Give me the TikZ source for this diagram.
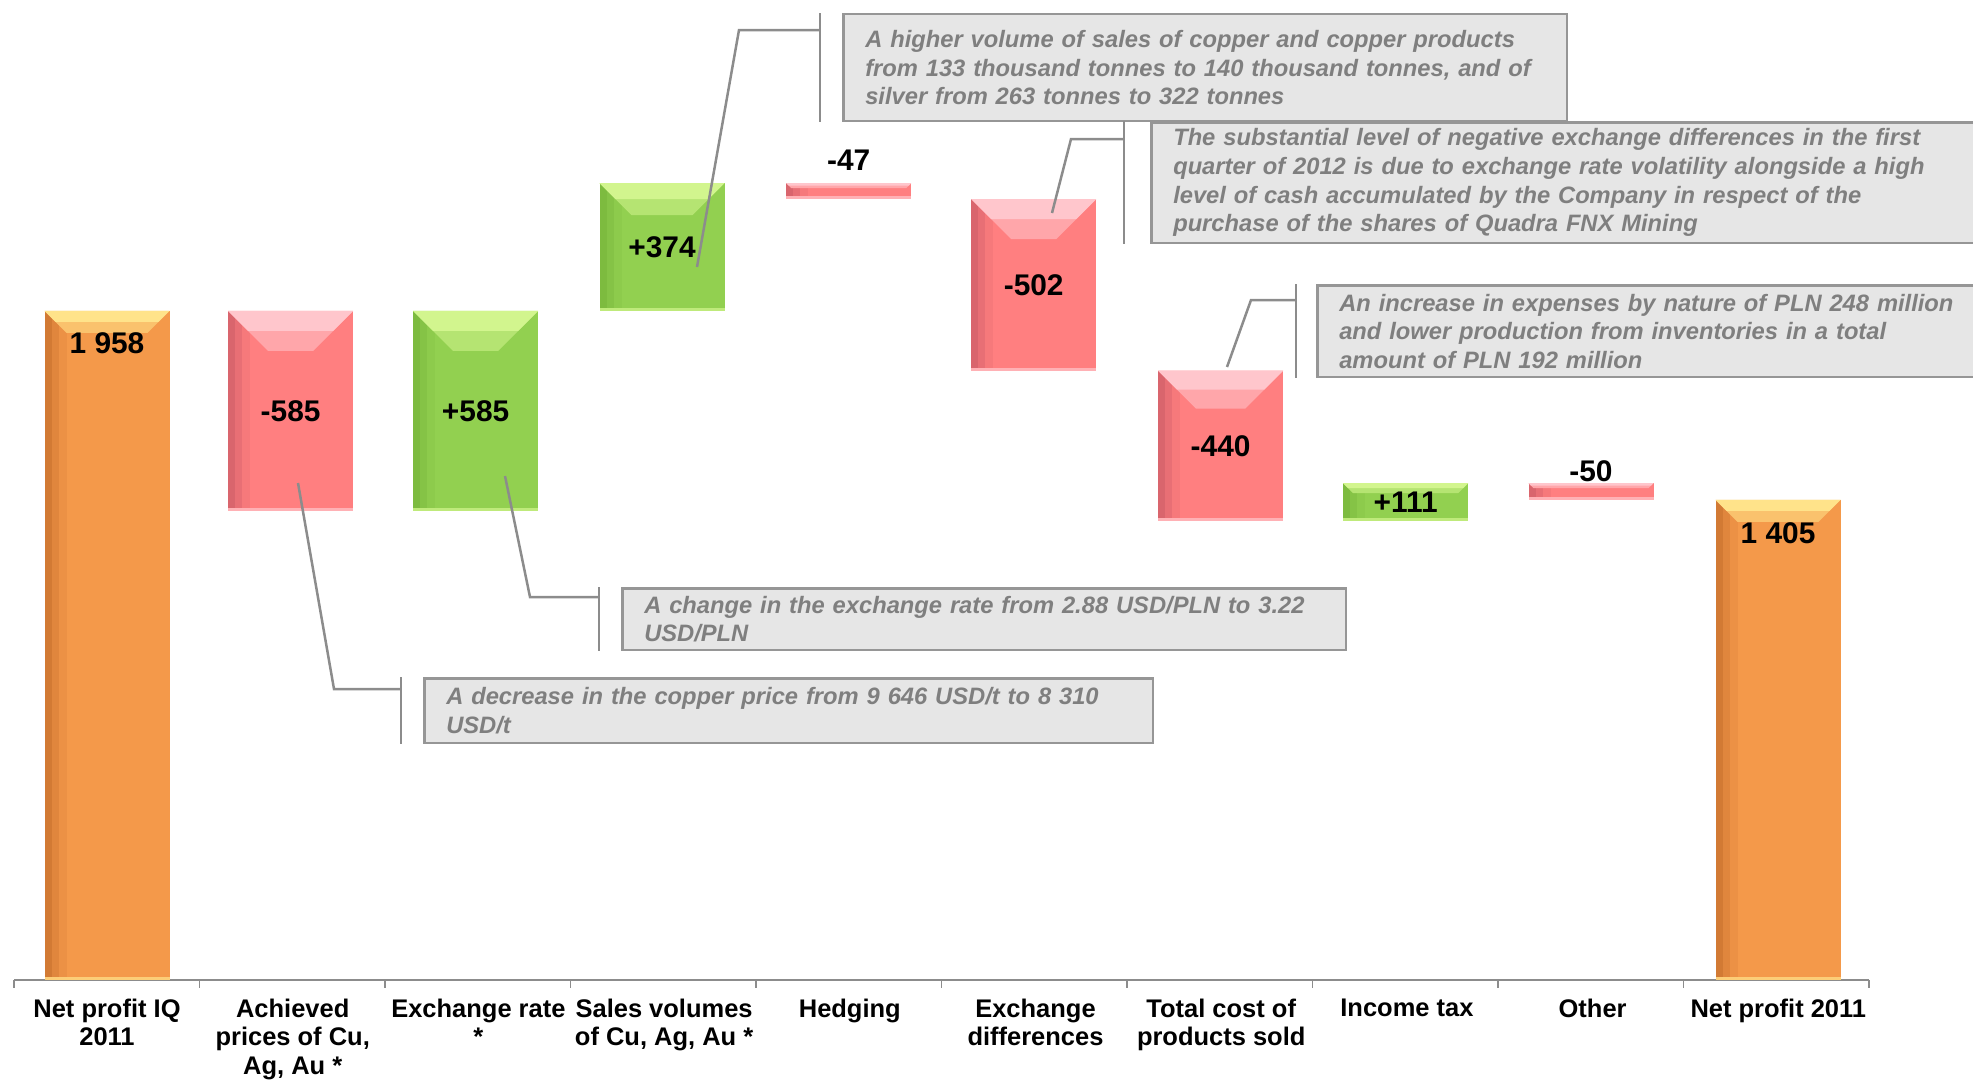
\documentclass[tikz,border=0pt]{standalone}
\usepackage{fontspec}
\setmainfont{Liberation Sans}
\usetikzlibrary{calc}

\definecolor{totD}{HTML}{D27A34}
\definecolor{tot}{HTML}{F4994A}
\definecolor{totL}{HTML}{FFE38A}
\definecolor{lossD}{HTML}{D9656D}
\definecolor{loss}{HTML}{FF7F80}
\definecolor{lossL}{HTML}{FFC6CC}
\definecolor{gainD}{HTML}{7DBB3F}
\definecolor{gain}{HTML}{92D050}
\definecolor{gainL}{HTML}{D2F58E}
\definecolor{boxfill}{HTML}{E6E6E6}
\definecolor{boxline}{HTML}{969696}
\definecolor{notegray}{HTML}{7F7F7F}
\definecolor{axisgray}{HTML}{8C8C8C}

% one bar: left x, top y, bottom y, colour set, bevel depth
\newcommand{\bevelbar}[5]{%
  \fill[#4] (#1,#2) rectangle (#1+125,#3);
  \fill[#4D] (#1,#2) rectangle (#1+7,#3);
  \fill[#4D!60!#4] (#1+7,#2) rectangle (#1+14,#3);
  \fill[#4D!25!#4] (#1+14,#2) rectangle (#1+22,#3);
  \fill[#4L!55!#4] (#1,#2) -- (#1+125,#2) -- (#1+125-#5,#2+#5) -- (#1+#5,#2+#5) -- cycle;
  \fill[#4L] (#1,#2) -- (#1+125,#2) -- (#1+125-#5/2,#2+#5/2) -- (#1+#5/2,#2+#5/2) -- cycle;
  \fill[#4L!70!#4] (#1,#3-3) rectangle (#1+125,#3);
}

\tikzset{
  valtext/.style={font=\bfseries\fontsize{17}{20}\selectfont, inner sep=0pt},
  cattext/.style={anchor=north, align=center, inner sep=0pt,
    font=\bfseries\fontsize{14.5}{16}\selectfont},
  callout/.style={anchor=north west, align=left, fill=boxfill, draw=boxline,
    line width=0.05cm, text=notegray, inner xsep=0.44cm, inner ysep=0pt,
    font=\bfseries\itshape\fontsize{13.5}{16.3}\selectfont},
  leader/.style={draw=axisgray, line width=0.05cm},
  axisline/.style={draw=axisgray, line width=0.055cm}
}

\begin{document}
\begin{tikzpicture}[x=0.02cm, y=-0.02cm]
\useasboundingbox (0,0) rectangle (1973,1085);
\clip (0,0) rectangle (1973,1085);

% axis
\draw[axisline] (14,980) -- (1869,980);
\foreach \k in {0,...,10}
  \draw[axisgray, line width=0.03cm] (14+185.5*\k,980) -- (14+185.5*\k,988);

% bars
\bevelbar{44.5}{310.9}{980}{tot}{22}
\bevelbar{228.1}{310.9}{510.8}{loss}{40}
\bevelbar{413.1}{310.9}{510.8}{gain}{40}
\bevelbar{599.5}{183.2}{310.9}{gain}{32}
\bevelbar{786.2}{183.2}{199.2}{loss}{5}
\bevelbar{971.2}{199.2}{370.7}{loss}{40}
\bevelbar{1158.1}{370.7}{521.1}{loss}{38}
\bevelbar{1343.1}{483.2}{521.1}{gain}{10}
\bevelbar{1528.5}{483.2}{500.3}{loss}{5}
\bevelbar{1715.5}{499.9}{980}{tot}{22}

% values
\node[valtext] (v1958) at (107,343) {1 958};
\node[valtext] (vprice) at (290.6,411) {-585};
\node[valtext] (vrate) at (475.6,411) {+585};
\node[valtext] (vvol) at (662,247) {+374};
\node[valtext] (vhedge) at (848.7,160) {-47};
\node[valtext] (vfx) at (1033.7,285) {-502};
\node[valtext] (vcost) at (1220.6,446) {-440};
\node[valtext] (vtax) at (1405.6,502) {+111};
\node[valtext] (vother) at (1591,471) {-50};
\node[valtext] (v1405) at (1778,533) {1 405};

% categories
\node[cattext] (k1) at (107,999) {Net profit IQ\\2011};
\node[cattext] (k2) at (292.7,999) {Achieved\\prices of Cu,\\Ag, Au *};
\node[cattext] (k3) at (478.4,999) {Exchange rate\\*};
\node[cattext] (k4) at (664.1,999) {Sales volumes\\of Cu, Ag, Au *};
\node[cattext] (k5) at (849.8,999) {Hedging};
\node[cattext] (k6) at (1035.5,999) {Exchange\\differences};
\node[cattext] (k7) at (1221.2,999) {Total cost of\\products sold};
\node[cattext] (k8) at (1406.9,999) {Income tax};
\node[cattext] (k9) at (1592.6,999) {Other};
\node[cattext] (k10) at (1778.3,999) {Net profit 2011};

% notes
\node[callout, text width=13.6cm, minimum height=2.14cm] (cvol) at (842,13)
  {A higher volume of sales of copper and copper products\\from 133 thousand tonnes to 140 thousand tonnes, and of\\silver from 263 tonnes to 322 tonnes};
\node[callout, text width=18cm, minimum height=2.42cm] (cfx) at (1150,121)
  {The substantial level of negative exchange differences in the first\\quarter of 2012 is due to exchange rate volatility alongside a high\\level of cash accumulated by the Company in respect of the\\purchase of the shares of Quadra FNX Mining};
\node[callout, text width=14.7cm, minimum height=1.84cm] (ccost) at (1316,284)
  {An increase in expenses by nature of PLN 248 million\\and lower production from inventories in a total\\amount of PLN 192 million};
\node[callout, text width=13.6cm, minimum height=1.24cm] (crate) at (621,587)
  {A change in the exchange rate from 2.88 USD/PLN to 3.22\\USD/PLN};
\node[callout, text width=13.7cm, minimum height=1.3cm] (cprice) at (423,677)
  {A decrease in the copper price from 9 646 USD/t to 8 310\\USD/t};

% leaders
\coordinate (sprice) at (298,483);
\coordinate (srate) at (505,476);
\coordinate (svol) at (697,267);
\coordinate (sfx) at (1052,213);
\coordinate (scost) at (1227,367);

\draw[leader] ($(cprice.north west)+(-22,0)$) -- ($(cprice.south west)+(-22,0)$);
\draw[leader] (sprice) -- (334,689) -- ($(cprice.north west)+(-22,12)$);

\draw[leader] ($(crate.north west)+(-22,0)$) -- ($(crate.south west)+(-22,0)$);
\draw[leader] (srate) -- (530,597) -- ($(crate.north west)+(-22,10)$);

\draw[leader] ($(cvol.north west)+(-22,0)$) -- ($(cvol.south west)+(-22,0)$);
\draw[leader] (svol) -- (739,30) -- ($(cvol.north west)+(-22,17)$);

\draw[leader] ($(cfx.north west)+(-26,0)$) -- ($(cfx.south west)+(-26,0)$);
\draw[leader] (sfx) -- (1071,139) -- ($(cfx.north west)+(-26,18)$);

\draw[leader] ($(ccost.north west)+(-20,0)$) -- ($(ccost.south west)+(-20,0)$);
\draw[leader] (scost) -- (1251,300) -- ($(ccost.north west)+(-20,16)$);
\end{tikzpicture}
\end{document}
